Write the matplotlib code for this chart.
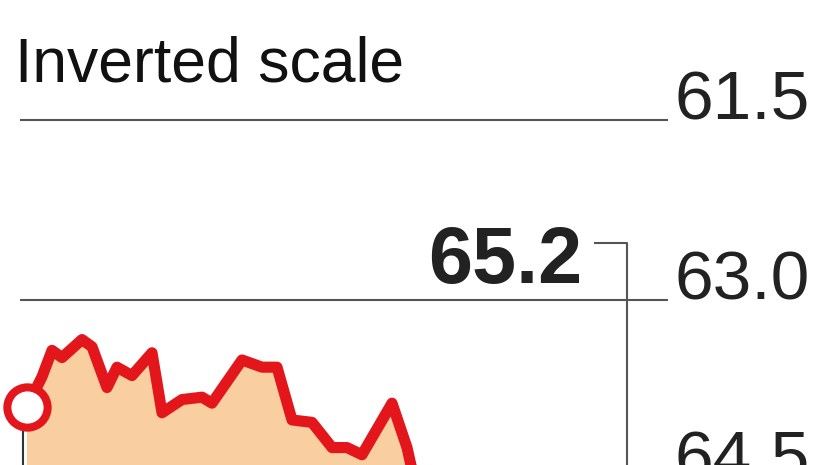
import matplotlib
matplotlib.use("Agg")
import matplotlib.pyplot as plt

# -------------------------------------------------------
# Data (trading-day index, value) -- inverted scale
# the tail of the series runs below the visible crop
# -------------------------------------------------------
days = [0, 3, 5, 7, 11, 13, 16, 18, 21, 25, 27, 31, 35, 37, 43, 47, 50, 53,
        57, 61, 64, 67, 73, 76, 78, 82, 86, 90, 95, 100, 105, 110, 115, 120]
values = [63.89, 63.64, 63.42, 63.48, 63.33, 63.39, 63.73, 63.56, 63.63,
          63.44, 63.94, 63.83, 63.81, 63.86, 63.50, 63.56, 63.56, 64.00,
          64.02, 64.23, 64.23, 64.29, 63.86, 64.23, 64.60, 64.70, 64.62,
          64.80, 64.75, 64.90, 64.98, 65.05, 65.12, 65.2]
ticks = [61.5, 63.0, 64.5]
tick_labels = ["61.5", "63.0", "64.5"]
title = "Inverted scale"

RED = "#E3161C"
FILL = "#F9CFA1"
GRID = "#555555"
fonts = ["Liberation Sans", "DejaVu Sans"]

W, H = 826, 465
fig = plt.figure(figsize=(W / 100, H / 100), dpi=100)
# axes runs a bit past the bottom edge so the 64.5 line/label is cut like the original
ax = fig.add_axes([20 / W, -35 / H, (668 - 20) / W, 500 / H])

for sp in ax.spines.values():
    sp.set_visible(False)
ax.set_xticks([])
ax.yaxis.tick_right()
ax.set_yticks(ticks)
ax.set_yticklabels(tick_labels, fontsize=50, family=fonts, color="#222222")
ax.tick_params(axis="y", length=0, pad=5)
for lab in ax.get_yticklabels():
    lab.set_verticalalignment("baseline")
ax.grid(axis="y", color=GRID, linewidth=1.5)
ax.set_axisbelow(True)

# 5 px per day -> day 0 at px 27, day 120 at px 627
ax.set_xlim(-1.4, 128.2)
ax.set_ylim(64.667, 60.5)   # inverted, 120 px per unit

# area + line
ax.fill_between(days, values, 70, color=FILL, linewidth=0, zorder=2)
ax.plot(days, values, color=RED, linewidth=8, solid_joinstyle="round",
        solid_capstyle="round", zorder=3)

# start marker
ax.vlines(days[0] - 0.8, values[0], 70, color="#333333", linewidth=1.5, zorder=2)
ax.plot(days[0], values[0], "o", ms=29, mfc="white", mec=RED, mew=5.8,
        zorder=4, clip_on=False)

# end-value callout
label_y = 62.525
ax.plot([days[-1] - 6.4, days[-1], days[-1]], [label_y, label_y, values[-1]],
        color=GRID, linewidth=1.5, zorder=3)
ax.annotate(f"{values[-1]:.1f}", xy=(days[-1] - 6.4, label_y),
            xytext=(-13, -40), textcoords="offset pixels",
            ha="right", va="baseline", fontsize=57, fontweight="bold",
            family=fonts, color="#222222")

fig.text(15 / W, 1 - 81 / H, title, ha="left", va="baseline",
         fontsize=45, family=fonts, color="#111111")

fig.savefig("out.png", dpi=100)
